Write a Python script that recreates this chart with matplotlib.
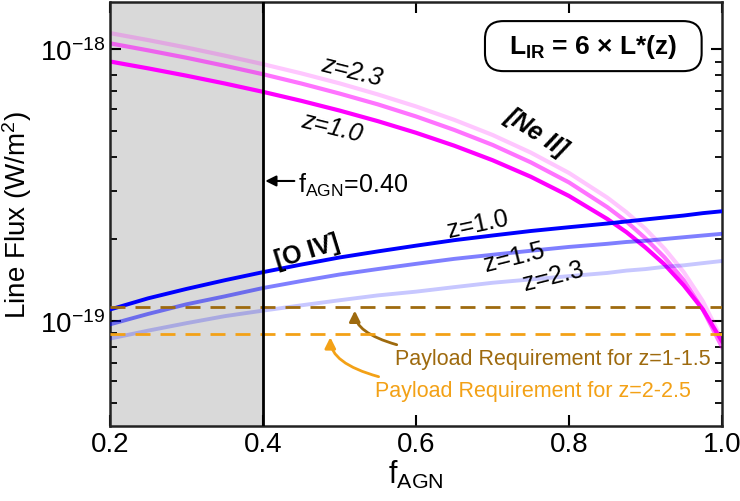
import numpy as np
import matplotlib
matplotlib.use("Agg")
import matplotlib.pyplot as plt
from matplotlib.ticker import FixedLocator, NullFormatter, LogLocator
from matplotlib.patches import FancyBboxPatch

FONT = 'Liberation Sans'
plt.rcParams['font.family'] = [FONT, 'DejaVu Sans']
plt.rcParams['mathtext.fontset'] = 'custom'
plt.rcParams['mathtext.rm'] = FONT
plt.rcParams['mathtext.it'] = FONT + ':italic'
plt.rcParams['mathtext.bf'] = FONT + ':bold'

# f_AGN grid
f_agn = [0.20, 0.25, 0.30, 0.35, 0.40, 0.45, 0.50, 0.55, 0.60, 0.65,
         0.70, 0.75, 0.80, 0.85, 0.875, 0.90, 0.925, 0.95, 0.975, 1.00]

# [Ne II] line flux, units of 1e-18 W/m^2
neii_z10 = [0.900, 0.849, 0.798, 0.747, 0.696, 0.645, 0.594, 0.543, 0.492, 0.441,
            0.390, 0.339, 0.288, 0.237, 0.212, 0.186, 0.161, 0.135, 0.110, 0.084]
neii_z15 = [1.050, 0.989, 0.929, 0.868, 0.808, 0.747, 0.686, 0.626, 0.565, 0.504,
            0.444, 0.383, 0.323, 0.262, 0.232, 0.201, 0.171, 0.141, 0.110, 0.080]
neii_z23 = [1.145, 1.079, 1.013, 0.946, 0.880, 0.814, 0.748, 0.681, 0.615, 0.549,
            0.483, 0.416, 0.350, 0.284, 0.251, 0.218, 0.184, 0.151, 0.118, 0.085]

# [O IV] line flux, units of 1e-19 W/m^2
oiv_z10 = [1.10, 1.21, 1.31, 1.41, 1.51, 1.61, 1.71, 1.80, 1.89, 1.98,
           2.06, 2.14, 2.21, 2.28, 2.32, 2.36, 2.40, 2.44, 2.49, 2.53]
oiv_z15 = [0.97, 1.06, 1.15, 1.23, 1.32, 1.40, 1.48, 1.55, 1.62, 1.69,
           1.75, 1.81, 1.87, 1.92, 1.95, 1.97, 2.00, 2.03, 2.06, 2.09]
oiv_z23 = [0.86, 0.92, 0.98, 1.04, 1.09, 1.14, 1.19, 1.24, 1.28, 1.33,
           1.38, 1.42, 1.46, 1.50, 1.53, 1.55, 1.58, 1.60, 1.63, 1.66]

# payload requirements (W/m^2)
req_z1 = 1.12e-19
req_z2 = 0.895e-19
f_cut = 0.40

x = np.array(f_agn)

fig = plt.figure(figsize=(7.4, 5.02), dpi=100)
ax = fig.add_axes([0.1486, 0.1494, 0.8271, 0.8446])
ax.set_yscale('log')

ax.axvspan(0.2, f_cut, color='#d9d9d9', zorder=0, lw=0)

# [Ne II]
ax.plot(x, np.array(neii_z23) * 1e-18, color='#ff00ff', alpha=0.22, lw=3.0, zorder=2)
ax.plot(x, np.array(neii_z15) * 1e-18, color='#ff00ff', alpha=0.55, lw=3.0, zorder=2)
ax.plot(x, np.array(neii_z10) * 1e-18, color='#ff00ff', lw=3.0, zorder=2)

# [O IV]
ax.plot(x, np.array(oiv_z23) * 1e-19, color='#0000ff', alpha=0.22, lw=2.8, zorder=3)
ax.plot(x, np.array(oiv_z15) * 1e-19, color='#0000ff', alpha=0.5, lw=2.8, zorder=3)
ax.plot(x, np.array(oiv_z10) * 1e-19, color='#0000ff', lw=2.8, zorder=3)

brown = '#9e6a0e'
orange = '#f3a116'
ax.axhline(req_z1, color=brown, lw=2, dashes=(5.4, 3.6), zorder=4)
ax.axhline(req_z2, color=orange, lw=2, dashes=(5.4, 3.6), zorder=4)

ax.axvline(f_cut, color='black', lw=2, zorder=5)

ax.set_xlim(0.2, 1.0)
ax.set_ylim(4.1e-20, 1.49e-18)
ax.set_xticks([0.2, 0.4, 0.6, 0.8, 1.0])
ax.set_xticklabels(['0.2', '0.4', '0.6', '0.8', '1.0'])
ax.yaxis.set_major_locator(FixedLocator([1e-19, 1e-18]))
ax.yaxis.set_minor_locator(LogLocator(base=10, subs=np.arange(2, 10)))
ax.yaxis.set_minor_formatter(NullFormatter())
ax.tick_params(which='both', direction='in', top=True, right=True, labelsize=20)
ax.tick_params(which='major', length=8, width=1.5)
ax.tick_params(which='minor', length=5, width=1.3)
for s in ax.spines.values():
    s.set_linewidth(1.8)
    s.set_color('#222222')

ax.set_xlabel(r'f$_{\mathrm{AGN}}$', fontsize=22, labelpad=1)
ax.set_ylabel(r'Line Flux (W/m$^{2}$)', fontsize=20, labelpad=4)

# labels
ax.text(0.516, 8.3e-19, 'z=2.3', fontsize=18, style='italic', rotation=-14,
        ha='center', va='center')
ax.text(0.490, 5.16e-19, 'z=1.0', fontsize=18, style='italic', rotation=-14,
        ha='center', va='center')
ax.text(0.758, 4.96e-19, '[Ne II]', fontsize=18, style='italic', weight='bold',
        rotation=-33, ha='center', va='center')
ax.text(0.4575, 1.81e-19, '[O IV]', fontsize=18, weight='bold', rotation=17,
        ha='center', va='center')
ax.text(0.681, 2.27e-19, 'z=1.0', fontsize=18, rotation=12, ha='center', va='center')
ax.text(0.729, 1.72e-19, 'z=1.5', fontsize=18, rotation=14, ha='center', va='center')
ax.text(0.779, 1.46e-19, 'z=2.3', fontsize=18, rotation=14, ha='center', va='center')

ax.annotate('', xy=(0.403, 3.27e-19), xytext=(0.441, 3.27e-19),
            arrowprops=dict(arrowstyle='-|>', color='black', lw=1.5,
                            mutation_scale=16, shrinkA=0, shrinkB=0), zorder=6)
ax.text(0.446, 2.98e-19, r'f$_{\mathrm{AGN}}$=0.40', fontsize=18,
        ha='left', va='baseline')

ax.annotate('Payload Requirement for z=1-1.5', xy=(0.52, 1.09e-19),
            xytext=(0.5725, 0.725e-19), color=brown, fontsize=15.5,
            ha='left', va='center',
            arrowprops=dict(arrowstyle='-|>', color=brown, lw=2,
                            mutation_scale=16, shrinkA=2, shrinkB=0,
                            connectionstyle='angle3,angleA=0,angleB=90'))
ax.annotate('Payload Requirement for z=2-2.5', xy=(0.488, 0.87e-19),
            xytext=(0.5464, 0.553e-19), color=orange, fontsize=15.5,
            ha='left', va='center',
            arrowprops=dict(arrowstyle='-|>', color=orange, lw=2,
                            mutation_scale=16, shrinkA=2, shrinkB=0,
                            connectionstyle='angle3,angleA=0,angleB=90'))

# L_IR box
box = FancyBboxPatch((0.6127, 0.837), 0.354, 0.118, transform=ax.transAxes,
                     boxstyle='round,pad=0,rounding_size=0.03',
                     mutation_aspect=1.4,
                     fc='white', ec='black', lw=1.5, zorder=6)
ax.add_patch(box)
ax.text(0.789, 0.896, r'L$_{\mathbf{IR}}$ = 6 × L*(z)', transform=ax.transAxes,
        fontsize=19, weight='bold', ha='center', va='center', zorder=7)

fig.savefig('out.png', dpi=100)
